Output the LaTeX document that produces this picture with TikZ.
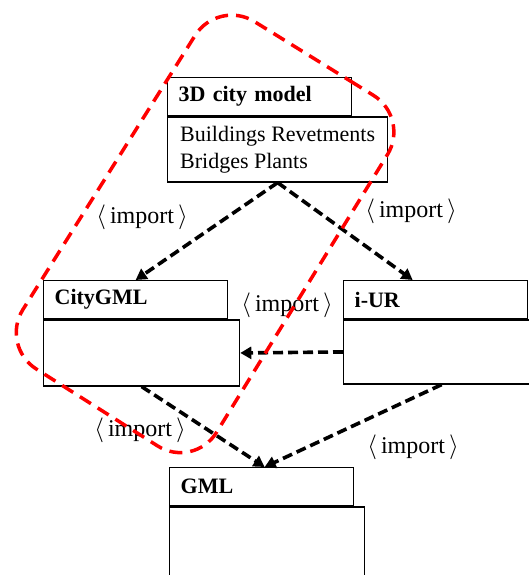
\documentclass[tikz,border=0pt]{standalone}
\usepackage{fontspec}
\setmainfont{Liberation Serif}
\usetikzlibrary{arrows.meta,positioning,calc}

\begin{document}
\begin{tikzpicture}[x=1pt,y=-1pt,
    tabbox/.style={draw, line width=1.3pt, fill=white, anchor=north west, inner xsep=11pt, inner ysep=0pt,
        text width=162pt, minimum height=38pt, align=left, font=\fontsize{22}{27}\selectfont\bfseries},
    bodybox/.style={draw, line width=1.3pt, fill=white, anchor=north west, inner xsep=11pt, inner ysep=0pt,
        align=left, font=\fontsize{22}{27}\selectfont},
    imp/.style={line width=3.6pt, dash pattern=on 10pt off 5pt, -{Triangle[length=11pt,width=12pt]}},
    lbl/.style={font=\fontsize{24}{28}\selectfont}]
    \useasboundingbox (0,0) rectangle (528,575);

    % 3D city model
    \node[tabbox] (citytab) at (167,77) {3D city model};
    \node[bodybox, minimum width=220pt, minimum height=65pt] (citybody) at (citytab.south west) {Buildings Revetments\\Bridges Plants};

    % CityGML
    \node[tabbox] (cgmltab) at (43,280) {CityGML};
    \node[bodybox, minimum width=196pt, minimum height=66pt] (cgmlbody) at (cgmltab.south west) {};

    % i-UR
    \node[tabbox] (iurtab) at (343,280) {i-UR};
    \node[bodybox, minimum width=196pt, minimum height=64pt] (iurbody) at (iurtab.south west) {};

    % GML
    \node[tabbox] (gmltab) at (169,467) {GML};
    \node[bodybox, minimum width=195pt, minimum height=80pt] (gmlbody) at (gmltab.south west) {};

    % imports
    \draw[imp] (citybody.south) -- (cgmltab.north);
    \draw[imp] (citybody.south) -- ([xshift=-23pt]iurtab.north);
    \draw[imp] (iurbody.west) -- (cgmlbody.east);
    \draw[imp] (cgmlbody.south) -- ([xshift=3pt]gmltab.north);
    \draw[imp] (iurbody.south) -- ([xshift=3pt]gmltab.north);

    \node[lbl] (imp1) at (142,217) {$\langle$\,import\,$\rangle$};
    \node[lbl] (imp2) at (411,211) {$\langle$\,import\,$\rangle$};
    \node[lbl] (imp3) at (287,305) {$\langle$\,import\,$\rangle$};
    \node[lbl] (imp4) at (140,430) {$\langle$\,import\,$\rangle$};
    \node[lbl] (imp5) at (413,447) {$\langle$\,import\,$\rangle$};

    % red group
    \draw[red, line width=3.5pt, dash pattern=on 13pt off 8pt, rounded corners=43pt]
        (314,58.5) -- (410,118) -- (194,469) -- (0,346) -- (218,-1) -- cycle;
\end{tikzpicture}
\end{document}
